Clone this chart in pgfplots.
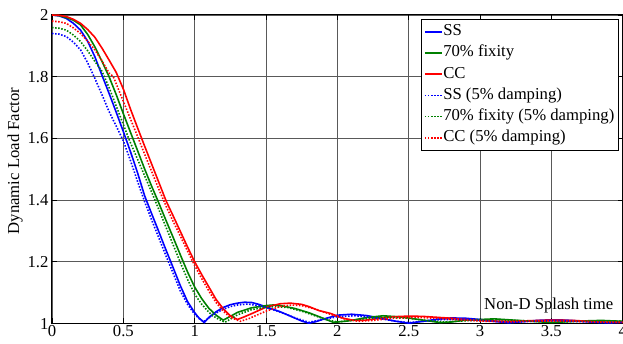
\documentclass[border=0pt]{standalone}
\usepackage{fontspec}
\setmainfont{Liberation Serif}
\usepackage{pgfplots}
\pgfplotsset{compat=1.18}
\newcommand\ff{\fontsize{16.7pt}{20pt}\selectfont}
\definecolor{mblue}{rgb}{0,0,1}
\definecolor{mgreen}{rgb}{0,0.5,0}
\definecolor{mred}{rgb}{1,0,0}
\tikzset{sld/.style={line width=1.6pt}, dotd/.style={line width=1.6pt, dash pattern=on 1.5pt off 1.6pt}}
\begin{document}
\begin{tikzpicture}
\begin{axis}[
  scale only axis, width=570.7pt, height=308.5pt,
  xmin=0, xmax=4, ymin=1, ymax=2,
  xtick={0,0.5,1,1.5,2,2.5,3,3.5,4},
  ytick={1,1.2,1.4,1.6,1.8,2},
  /pgf/number format/assume math mode=true,
  tick label style={font=\ff},
  xticklabel style={yshift=2pt},
  tick align=inside, major tick length=5pt,
  tick style={black, line width=0.6pt},
  axis line style={black, line width=1pt},
  grid=major, major grid style={black!65, line width=0.6pt},
  ylabel={Dynamic Load Factor},
  every axis y label/.style={at={(rel axis cs:-0.0648,0.527)}, rotate=90, anchor=center, font=\ff},
  xlabel={Non-D Splash time},
  every axis x label/.style={at={(rel axis cs:1,0)}, anchor=base east, xshift=-6pt, yshift=13.5pt, font=\ff},
  legend cell align=left,
  legend style={at={(1,1)}, anchor=north east, xshift=-4.4pt, yshift=-4pt,
    font=\ff, draw=black, inner xsep=3.2pt, inner ysep=2pt,
    nodes={inner xsep=0.5pt, inner ysep=2.6pt, text height=12pt, text depth=4pt}},
  every legend/.append style={line width=1pt},
]
\coordinate (sw) at (rel axis cs:0,0);
\coordinate (ne) at (rel axis cs:1,1);
% SS
\addplot[mblue, sld] coordinates {
(0,2.000)(0.05,1.997)(0.1,1.989)(0.15,1.973)(0.2,1.951)(0.25,1.915)(0.3,1.865)(0.35,1.805)
(0.4,1.746)(0.45,1.685)(0.5,1.622)(0.55,1.557)(0.6,1.488)(0.65,1.413)(0.7,1.354)(0.75,1.296)
(0.8,1.237)(0.85,1.180)(0.9,1.122)(0.95,1.071)(1.0,1.035)(1.03,1.018)(1.067,1.003)(1.1,1.020)
(1.15,1.038)(1.2,1.052)(1.25,1.061)(1.3,1.066)(1.35,1.069)(1.4,1.068)(1.45,1.062)(1.5,1.054)
(1.6,1.038)(1.7,1.018)(1.75,1.008)(1.8,1.001)(1.85,1.006)(1.9,1.014)(2.0,1.027)(2.1,1.030)
(2.2,1.026)(2.3,1.018)(2.4,1.008)(2.5,1.001)(2.6,1.007)(2.7,1.014)(2.8,1.018)(2.9,1.017)
(3.0,1.013)(3.1,1.007)(3.2,1.002)(3.3,1.006)(3.4,1.010)(3.5,1.012)(3.6,1.011)(3.7,1.008)
(3.8,1.004)(3.9,1.002)(4.0,1.004)};
\addlegendentry{SS}
% 70% fixity
\addplot[mgreen, sld] coordinates {
(0,2.000)(0.05,1.998)(0.1,1.992)(0.15,1.983)(0.2,1.968)(0.25,1.937)(0.3,1.897)(0.35,1.850)
(0.4,1.800)(0.45,1.742)(0.5,1.680)(0.55,1.620)(0.6,1.560)(0.65,1.500)(0.7,1.443)(0.74,1.400)
(0.8,1.333)(0.85,1.278)(0.9,1.222)(0.95,1.167)(1.0,1.118)(1.05,1.080)(1.1,1.049)(1.15,1.027)
(1.2,1.011)(1.25,1.023)(1.3,1.036)(1.4,1.051)(1.5,1.058)(1.55,1.060)(1.6,1.058)(1.7,1.049)
(1.8,1.035)(1.9,1.017)(1.97,1.004)(2.05,1.007)(2.1,1.010)(2.2,1.019)(2.32,1.025)(2.45,1.021)
(2.6,1.011)(2.72,1.003)(2.8,1.005)(2.9,1.011)(3.1,1.015)(3.3,1.009)(3.5,1.003)(3.7,1.008)
(3.85,1.010)(4.0,1.007)};
\addlegendentry{70\% fixity}
% CC
\addplot[mred, sld] coordinates {
(0,2.000)(0.05,1.999)(0.1,1.995)(0.15,1.986)(0.2,1.973)(0.25,1.953)(0.3,1.928)(0.35,1.893)
(0.4,1.854)(0.45,1.814)(0.5,1.760)(0.55,1.695)(0.6,1.634)(0.65,1.574)(0.7,1.515)(0.75,1.456)
(0.8,1.397)(0.85,1.348)(0.9,1.298)(0.95,1.248)(1.0,1.200)(1.05,1.158)(1.1,1.118)(1.15,1.078)
(1.2,1.048)(1.25,1.025)(1.3,1.013)(1.35,1.022)(1.4,1.032)(1.5,1.053)(1.6,1.064)(1.67,1.066)
(1.75,1.062)(1.8,1.055)(1.87,1.042)(1.95,1.033)(2.0,1.024)(2.05,1.016)(2.12,1.010)(2.2,1.011)
(2.3,1.017)(2.4,1.022)(2.5,1.024)(2.6,1.023)(2.7,1.020)(2.8,1.017)(2.9,1.013)(3.0,1.010)
(3.1,1.008)(3.2,1.007)(3.35,1.009)(3.5,1.011)(3.65,1.010)(3.8,1.006)(3.9,1.004)(4.0,1.004)};
\addlegendentry{CC}
% SS damped
\addplot[mblue, dotd] coordinates {
(0,1.940)(0.05,1.938)(0.1,1.930)(0.15,1.912)(0.2,1.887)(0.25,1.845)(0.3,1.795)(0.35,1.742)
(0.4,1.687)(0.45,1.640)(0.5,1.592)(0.55,1.528)(0.6,1.460)(0.65,1.394)(0.7,1.334)(0.75,1.276)
(0.8,1.218)(0.85,1.162)(0.9,1.105)(0.95,1.062)(1.0,1.030)(1.03,1.016)(1.062,1.006)(1.1,1.018)
(1.15,1.034)(1.2,1.046)(1.25,1.055)(1.3,1.060)(1.37,1.063)(1.45,1.058)(1.5,1.052)(1.6,1.037)
(1.7,1.019)(1.8,1.004)(1.9,1.013)(2.0,1.022)(2.12,1.025)(2.2,1.022)(2.3,1.016)(2.4,1.008)
(2.5,1.003)(2.6,1.007)(2.7,1.012)(2.87,1.014)(3.0,1.011)(3.1,1.007)(3.2,1.004)(3.35,1.007)
(3.55,1.009)(3.7,1.006)(3.9,1.003)(4.0,1.004)};
\addlegendentry{SS (5\% damping)}
% 70% damped
\addplot[mgreen, dotd] coordinates {
(0,1.959)(0.05,1.957)(0.1,1.951)(0.15,1.935)(0.2,1.914)(0.25,1.884)(0.3,1.850)(0.35,1.818)
(0.4,1.765)(0.45,1.705)(0.5,1.645)(0.537,1.600)(0.6,1.532)(0.65,1.478)(0.7,1.424)(0.75,1.368)
(0.8,1.311)(0.85,1.254)(0.9,1.197)(0.95,1.143)(1.0,1.095)(1.05,1.062)(1.1,1.036)(1.15,1.018)
(1.212,1.004)(1.25,1.014)(1.3,1.028)(1.4,1.045)(1.5,1.053)(1.57,1.055)(1.65,1.052)(1.75,1.040)
(1.85,1.024)(1.92,1.013)(2.0,1.005)(2.1,1.010)(2.2,1.016)(2.35,1.021)(2.5,1.017)(2.62,1.010)
(2.75,1.005)(2.9,1.009)(3.1,1.013)(3.3,1.009)(3.5,1.004)(3.7,1.007)(3.9,1.008)(4.0,1.007)};
\addlegendentry{70\% fixity (5\% damping)}
% CC damped
\addplot[mred, dotd] coordinates {
(0,1.980)(0.05,1.978)(0.1,1.973)(0.15,1.958)(0.2,1.940)(0.25,1.915)(0.3,1.887)(0.35,1.852)
(0.4,1.812)(0.43,1.800)(0.5,1.720)(0.55,1.663)(0.6,1.606)(0.65,1.548)(0.7,1.491)(0.75,1.434)
(0.8,1.380)(0.85,1.330)(0.9,1.283)(0.95,1.235)(1.0,1.188)(1.05,1.145)(1.1,1.105)(1.15,1.068)
(1.2,1.040)(1.25,1.020)(1.32,1.007)(1.38,1.016)(1.45,1.030)(1.5,1.040)(1.6,1.055)(1.68,1.060)
(1.75,1.058)(1.85,1.046)(1.95,1.030)(2.05,1.015)(2.15,1.007)(2.25,1.010)(2.4,1.017)(2.55,1.020)
(2.7,1.017)(2.85,1.012)(3.0,1.008)(3.2,1.005)(3.4,1.008)(3.6,1.008)(3.8,1.005)(4.0,1.004)};
\addlegendentry{CC (5\% damping)}
\end{axis}
\pgfresetboundingbox
\path[use as bounding box] ([xshift=-52pt,yshift=-20.5pt]sw) rectangle ([xshift=0.3pt,yshift=15pt]ne);
\end{tikzpicture}
\end{document}
